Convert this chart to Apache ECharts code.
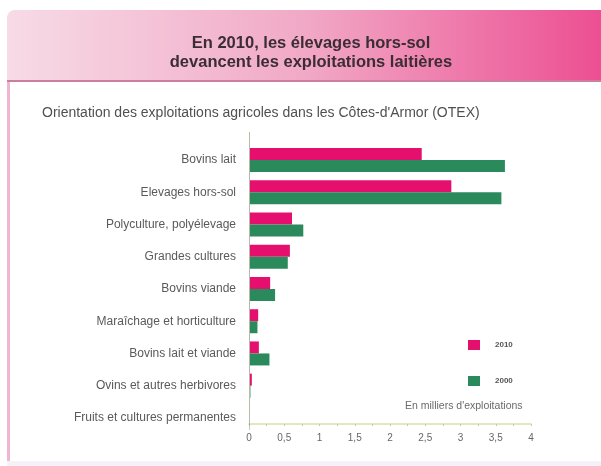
<!DOCTYPE html>
<html>
<head>
<meta charset="utf-8">
<script src="https://cdn.jsdelivr.net/npm/echarts@6/dist/echarts.min.js"></script>
<style>
  html, body { margin: 0; padding: 0; background: #ffffff; }
  #main { width: 601px; height: 466px; }
</style>
</head>
<body>
<div id="main"></div>
<script>
'use strict';
// orientation des exploitations (OTEX), en milliers
var categories = ['Bovins lait', 'Elevages hors-sol', 'Polyculture, polyélevage', 'Grandes cultures',
  'Bovins viande', 'Maraîchage et horticulture', 'Bovins lait et viande',
  'Ovins et autres herbivores', 'Fruits et cultures permanentes'];
var values2010 = [2.45, 2.87, 0.61, 0.58, 0.30, 0.13, 0.14, 0.04, 0.01];
var values2000 = [3.63, 3.58, 0.77, 0.55, 0.37, 0.12, 0.29, 0.02, 0.005];
var tickLabels = ['0', '0,5', '1', '1,5', '2', '2,5', '3', '3,5', '4'];

var chart = echarts.init(document.getElementById('main'));
var font = '"Liberation Sans", Arial, sans-serif';

var option = {
  animation: false,
  textStyle: { fontFamily: font },
  graphic: [
    // bandeau du titre
    { type: 'rect', z: -10, shape: { x: 7, y: 10, width: 594, height: 71, r: [8, 0, 0, 0] },
      style: { fill: new echarts.graphic.LinearGradient(0, 0, 1, 0, [
        { offset: 0, color: '#f7dbe6' }, { offset: 0.5, color: '#f1a9c6' }, { offset: 1, color: '#ec4f92' }]) } },
    { type: 'rect', z: -9, shape: { x: 7, y: 80, width: 594, height: 2 }, style: { fill: '#c97f9d' } },
    // bordure gauche et bas
    { type: 'rect', z: -9, shape: { x: 7, y: 82, width: 3, height: 380 }, style: { fill: '#f0b6cf' } },
    { type: 'rect', z: -9, shape: { x: 7, y: 461, width: 594, height: 5 }, style: { fill: '#f6f0f8' } },
    // trait vertical de l'axe des catégories
    { type: 'line', z: 5, shape: { x1: 249.5, y1: 132, x2: 249.5, y2: 424 },
      style: { stroke: '#b8b8a8', lineWidth: 1 } },
    { type: 'text', left: 42, top: 106,
      style: { text: 'Orientation des exploitations agricoles dans les Côtes-d\'Armor (OTEX)',
        font: '14px ' + font, fill: '#505050' } },
    { type: 'text', left: 405, top: 401,
      style: { text: 'En milliers d\'exploitations', font: '10.5px ' + font, fill: '#6a6a6a' } }
  ],
  title: {
    text: 'En 2010, les élevages hors-sol\ndevancent les exploitations laitières',
    left: 306, top: 29, textAlign: 'center',
    textStyle: { fontSize: 16.5, fontWeight: 'bold', color: '#3b2d33', lineHeight: 19, fontFamily: font }
  },
  legend: {
    orient: 'vertical', left: 468, top: 340, padding: 0, itemWidth: 12, itemHeight: 10, itemGap: 26,
    icon: 'rect',
    textStyle: { fontSize: 8, fontWeight: 'bold', color: '#555', padding: [0, 0, 0, 10] },
    data: ['2010', '2000']
  },
  grid: { left: 249, right: 70, top: 144, bottom: 32, containLabel: false },
  xAxis: {
    type: 'value', min: 0, max: 4, interval: 0.5, offset: -10,
    axisLine: { show: true, lineStyle: { color: '#d9dfae', width: 1.5 } },
    axisTick: { show: true, length: 2, lineStyle: { color: '#c8cc9e' } },
    minorTick: { show: true, splitNumber: 2, length: 2, lineStyle: { color: '#c8cc9e' } },
    splitLine: { show: false },
    axisLabel: { fontSize: 10, color: '#666', margin: 9,
      formatter: function (v) { return tickLabels[Math.round(v * 2)]; } }
  },
  yAxis: {
    type: 'category', data: categories, inverse: true,
    axisLine: { show: false },
    axisTick: { show: false },
    axisLabel: { fontSize: 12, color: '#5a5a5a', margin: 13 }
  },
  series: [
    { name: '2010', type: 'bar', data: values2010, barWidth: 12, barGap: '0%',
      itemStyle: { color: '#e5106e' } },
    { name: '2000', type: 'bar', data: values2000, barWidth: 12,
      itemStyle: { color: '#2a8a5c' } }
  ]
};
chart.setOption(option);
</script>
</body>
</html>
